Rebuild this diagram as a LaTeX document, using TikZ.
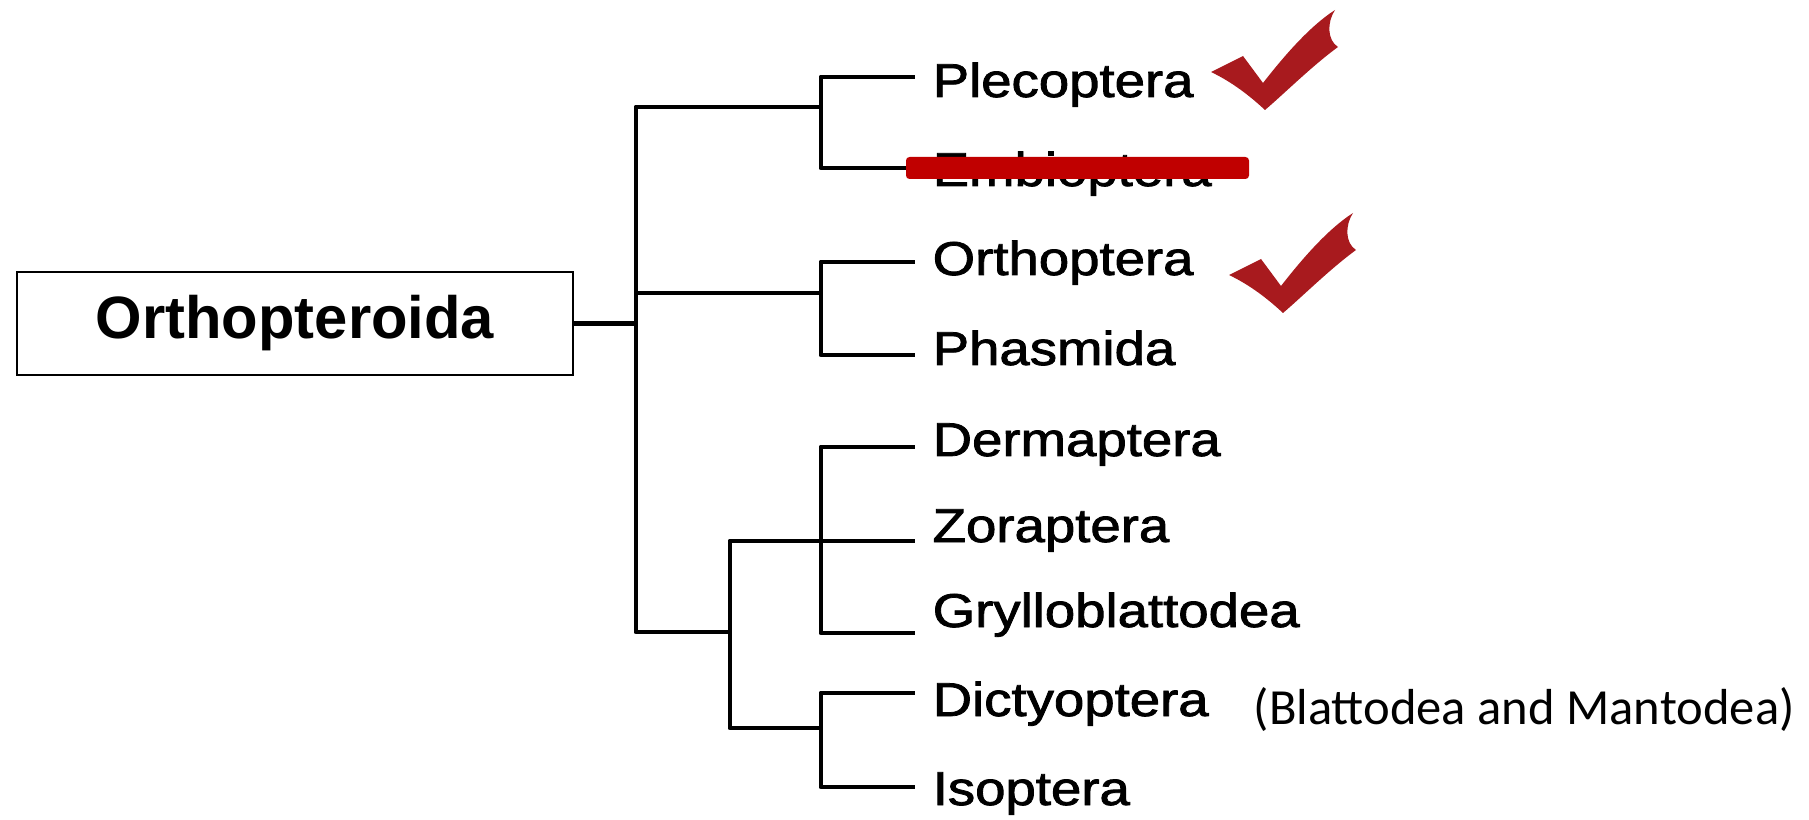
\documentclass[tikz,border=0pt]{standalone}
\usepackage{fontspec}
\usepackage{graphicx}
\setmainfont{Liberation Sans}
\newfontfamily\leaffont{Liberation Sans}[FakeBold=1.6]
\newfontfamily\notefont{Carlito}
\usetikzlibrary{positioning}

\definecolor{tickred}{RGB}{168,26,30}
\definecolor{strikered}{RGB}{192,0,0}

% leaf names are drawn a little wider than the font
\newcommand{\leafname}[1]{\scalebox{1.15}[1]{#1}}

\begin{document}
\begin{tikzpicture}[
    branch/.style={line width=1.4pt, line cap=rect, line join=round},
    rootbox/.style={draw, line width=0.8pt, minimum width=5.56cm, minimum height=1.03cm,
                    inner sep=0pt, font=\fontsize{17}{20}\selectfont\bfseries},
    leaf/.style={anchor=base west, inner sep=0pt, font=\leaffont\fontsize{13.5}{16}\selectfont},
    note/.style={anchor=base west, inner sep=0pt, font=\notefont\fontsize{14.4}{17}\selectfont},
    tick/.style={fill=tickred},
    strike/.style={fill=strikered, rounded corners=1pt},
]
\useasboundingbox (0,0) rectangle (18.09,-8.20);

% ---------------- root ----------------
\node[rootbox] (root) at (2.95,-3.235) {\raisebox{-0.5pt}{Orthopteroida}};

% ---------------- junctions ----------------
\coordinate (j0) at (6.36,-3.235);
\coordinate (j1) at (8.21,-1.07);
\coordinate (j2) at (8.21,-2.93);
\coordinate (j3) at (7.30,-6.32);
\coordinate (j4) at (8.21,-5.41);
\coordinate (j5) at (8.21,-7.28);

% ---------------- tips ----------------
\coordinate (tPle) at (9.13,-0.77);
\coordinate (tEmb) at (9.13,-1.68);
\coordinate (tOrt) at (9.13,-2.62);
\coordinate (tPha) at (9.13,-3.55);
\coordinate (tDer) at (9.13,-4.47);
\coordinate (tZor) at (9.13,-5.41);
\coordinate (tGry) at (9.13,-6.33);
\coordinate (tDic) at (9.13,-6.93);
\coordinate (tIso) at (9.13,-7.87);

% ---------------- leaves ----------------
\node[leaf] (ple) at (9.32,-0.97) {\leafname{Plecoptera}};
\node[leaf] (emb) at (9.32,-1.86) {\leafname{Embioptera}};
\node[leaf] (ort) at (9.32,-2.75) {\leafname{Orthoptera}};
\node[leaf] (pha) at (9.32,-3.65) {\leafname{Phasmida}};
\node[leaf] (der) at (9.32,-4.56) {\leafname{Dermaptera}};
\node[leaf] (zor) at (9.32,-5.42) {\leafname{Zoraptera}};
\node[leaf] (gry) at (9.32,-6.27) {\leafname{Grylloblattodea}};
\node[leaf] (dic) at (9.32,-7.16) {\leafname{Dictyoptera}};
\node[leaf] (iso) at (9.32,-8.05) {\leafname{Isoptera}};
\node[note] (blat) at (12.53,-7.24) {(Blattodea and Mantodea)};

% ---------------- tree ----------------
\draw[branch] (root) -- (j0);
\draw[branch] (j1) -| (j0) |- (j3);
\draw[branch] (j0 |- j2) -- (j2);
\draw[branch] (tPle) -| (j1) |- (tEmb);
\draw[branch] (tOrt) -| (j2) |- (tPha);
\draw[branch] (tDer) -| (j4) |- (tGry);
\draw[branch] (tZor) -| (j3) |- (j5);
\draw[branch] (tDic) -| (j5) |- (tIso);

% ---------------- marks ----------------
\fill[strike] (9.06,-1.57) rectangle (12.49,-1.79);
\foreach \dx/\dy in {0/0, 0.18/-2.03}
  \fill[tick, xshift=\dx cm, yshift=\dy cm]
    (12.11,-0.72) -- (12.43,-0.56) -- (12.63,-0.83)
    .. controls (12.84,-0.56) and (13.10,-0.26) .. (13.35,-0.10)
    .. controls (13.27,-0.22) and (13.27,-0.40) .. (13.38,-0.47)
    .. controls (13.12,-0.66) and (12.86,-0.92) .. (12.65,-1.10)
    .. controls (12.50,-0.96) and (12.32,-0.82) .. cycle;
\end{tikzpicture}
\end{document}
